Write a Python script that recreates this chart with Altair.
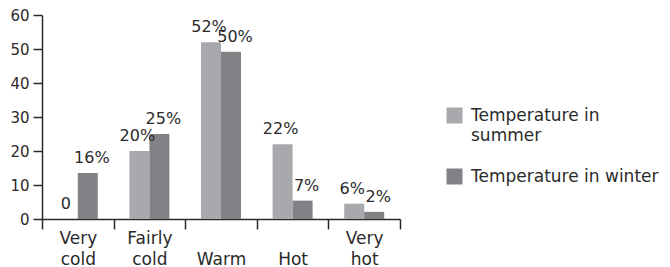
import altair as alt
import pandas as pd

categories = ["Very cold", "Fairly cold", "Warm", "Hot", "Very hot"]
series = ["Temperature in summer", "Temperature in winter"]
summer_values = [0, 20, 52, 22, 4.5]
winter_values = [13.5, 25, 49.2, 5.4, 2.1]
summer_labels = ["0", "20%", "52%", "22%", "6%"]
winter_labels = ["16%", "25%", "50%", "7%", "2%"]
colors = ["#a7a9ac", "#808285"]
y_ticks = [0, 10, 20, 30, 40, 50, 60]

rows = []
for i, c in enumerate(categories):
    rows.append({"cat": c, "series": series[0], "value": summer_values[i], "label": summer_labels[i]})
    rows.append({"cat": c, "series": series[1], "value": winter_values[i], "label": winter_labels[i]})
df = pd.DataFrame(rows)

FONT = "DejaVu Sans"
INK = "#2a2a2a"

base = alt.Chart(df).encode(
    x=alt.X(
        "cat:N",
        sort=categories,
        scale=alt.Scale(paddingInner=0, paddingOuter=0),
        axis=alt.Axis(
            title=None, labelAngle=0, tickBand="extent", tickSize=10,
            labelPadding=1, labelBaseline="top",
            labelExpr="length(split(datum.label, ' ')) > 1 ? split(datum.label, ' ') : ['', datum.label]",
            labelLineHeight=21,
            labelFontSize=17, labelColor=INK, domainColor=INK, tickColor=INK,
            domainWidth=1.5, tickWidth=1.5,
        ),
    ),
    xOffset=alt.XOffset("series:N", sort=series,
                        scale=alt.Scale(paddingOuter=0.79, paddingInner=0)),
    y=alt.Y(
        "value:Q",
        scale=alt.Scale(domain=[0, 60]),
        axis=alt.Axis(
            title=None, values=y_ticks, grid=False, tickSize=9, labelPadding=4,
            labelFontSize=15, labelColor=INK, domainColor=INK, tickColor=INK,
            domainWidth=1.5, tickWidth=1.5, labelOverlap=False,
        ),
    ),
)

legend = alt.Legend(
    title=None, orient="none", legendX=404, legendY=92,
    symbolType="square", symbolSize=256, symbolStrokeWidth=0,
    labelFontSize=17, labelColor=INK, labelOffset=8, labelLimit=400,
    labelExpr="datum.label == 'Temperature in summer' ? ['Temperature in', 'summer'] : datum.label",
    rowPadding=23,
)

bars = base.mark_bar().encode(
    color=alt.Color("series:N", sort=series,
                    scale=alt.Scale(domain=series, range=colors), legend=legend),
)

texts_summer = base.mark_text(dy=-15, dx=-2, fontSize=16, color=INK, font=FONT).encode(
    text="label:N",
).transform_filter(alt.datum.series == series[0])

texts_winter = base.mark_text(dy=-15, dx=4, fontSize=16, color=INK, font=FONT).encode(
    text="label:N",
).transform_filter(alt.datum.series == series[1])

chart = (
    alt.layer(bars, texts_summer, texts_winter)
    .properties(
        width=358, height=204,
        autosize=alt.AutoSizeParams(type="none"),
        padding={"left": 34, "top": 7, "right": 262, "bottom": 48},
    )
    .configure(font=FONT, style={"guide-label": {"lineHeight": 20}})
    .configure_view(stroke=None)
)

chart.save("out.html", embed_options={"renderer": "svg", "actions": False})
